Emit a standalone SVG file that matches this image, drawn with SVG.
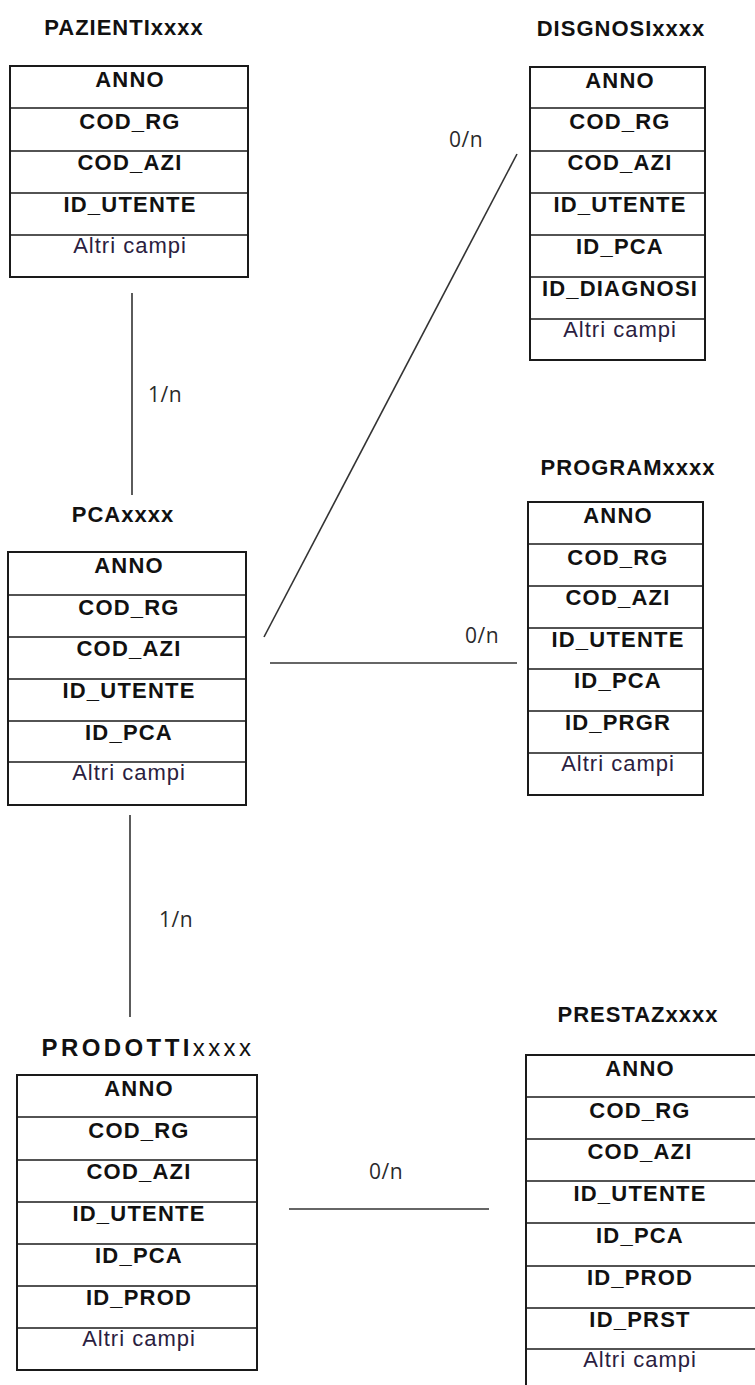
<svg xmlns="http://www.w3.org/2000/svg" width="755" height="1385" viewBox="0 0 755 1385">
<style>
.box{fill:#fff;stroke:#1a1a1a;stroke-width:2}
.sep{stroke:#1a1a1a;stroke-width:1.6}
.f{font-family:"Liberation Sans",Arial,sans-serif;font-weight:bold;font-size:22px;letter-spacing:1.2px;text-anchor:middle;fill:#111}
.o{font-family:"Liberation Sans",Arial,sans-serif;font-weight:normal;font-size:22px;letter-spacing:1px;text-anchor:middle;fill:#2a2040}
.t{font-family:"Liberation Sans",Arial,sans-serif;font-weight:bold;font-size:22px;letter-spacing:1px;text-anchor:middle;fill:#111}
.lbl{font-family:"Open Sans","Liberation Sans",sans-serif;font-size:21px;letter-spacing:0.5px;fill:#2a2a2a}
.conn{stroke:#333;stroke-width:1.6;fill:none}
</style>
<rect width="755" height="1385" fill="#fff"/>

<g id="connectors">
<line class="conn" x1="132" y1="293" x2="132" y2="495"/>
<line class="conn" x1="264" y1="637" x2="517" y2="154"/>
<line class="conn" x1="270" y1="663" x2="517" y2="663"/>
<line class="conn" x1="130" y1="815" x2="130" y2="1017"/>
<line class="conn" x1="289" y1="1209" x2="489" y2="1209"/>
<text class="lbl" x="148" y="402">1/n</text>
<text class="lbl" x="449" y="147">0/n</text>
<text class="lbl" x="465" y="643">0/n</text>
<text class="lbl" x="159" y="927">1/n</text>
<text class="lbl" x="369" y="1179">0/n</text>
</g>

<g id="pazienti">
<text class="t" x="124" y="35">PAZIENTIxxxx</text>
<rect class="box" x="10" y="66" width="238" height="211"/>
<line class="sep" x1="10" y1="108" x2="248" y2="108"/>
<line class="sep" x1="10" y1="151" x2="248" y2="151"/>
<line class="sep" x1="10" y1="193" x2="248" y2="193"/>
<line class="sep" x1="10" y1="235" x2="248" y2="235"/>
<text class="f" x="130" y="87">ANNO</text>
<text class="f" x="130" y="129">COD_RG</text>
<text class="f" x="130" y="170">COD_AZI</text>
<text class="f" x="130" y="212">ID_UTENTE</text>
<text class="o" x="130" y="253">Altri campi</text>
</g>

<g id="diagnosi">
<text class="t" x="621" y="36">DISGNOSIxxxx</text>
<rect class="box" x="530" y="67" width="175" height="293"/>
<line class="sep" x1="530" y1="108" x2="705" y2="108"/>
<line class="sep" x1="530" y1="151" x2="705" y2="151"/>
<line class="sep" x1="530" y1="193" x2="705" y2="193"/>
<line class="sep" x1="530" y1="235" x2="705" y2="235"/>
<line class="sep" x1="530" y1="277" x2="705" y2="277"/>
<line class="sep" x1="530" y1="319" x2="705" y2="319"/>
<text class="f" x="620" y="88">ANNO</text>
<text class="f" x="620" y="129">COD_RG</text>
<text class="f" x="620" y="170">COD_AZI</text>
<text class="f" x="620" y="212">ID_UTENTE</text>
<text class="f" x="620" y="254">ID_PCA</text>
<text class="f" x="620" y="296">ID_DIAGNOSI</text>
<text class="o" x="620" y="337">Altri campi</text>
</g>

<g id="pca">
<text class="t" x="123" y="522">PCAxxxx</text>
<rect class="box" x="8" y="552" width="238" height="253"/>
<line class="sep" x1="8" y1="595" x2="246" y2="595"/>
<line class="sep" x1="8" y1="637" x2="246" y2="637"/>
<line class="sep" x1="8" y1="679" x2="246" y2="679"/>
<line class="sep" x1="8" y1="721" x2="246" y2="721"/>
<line class="sep" x1="8" y1="762" x2="246" y2="762"/>
<text class="f" x="129" y="573">ANNO</text>
<text class="f" x="129" y="615">COD_RG</text>
<text class="f" x="129" y="656">COD_AZI</text>
<text class="f" x="129" y="698">ID_UTENTE</text>
<text class="f" x="129" y="740">ID_PCA</text>
<text class="o" x="129" y="780">Altri campi</text>
</g>

<g id="program">
<text class="t" x="628" y="475">PROGRAMxxxx</text>
<rect class="box" x="528" y="502" width="175" height="293"/>
<line class="sep" x1="528" y1="544" x2="703" y2="544"/>
<line class="sep" x1="528" y1="586" x2="703" y2="586"/>
<line class="sep" x1="528" y1="628" x2="703" y2="628"/>
<line class="sep" x1="528" y1="669" x2="703" y2="669"/>
<line class="sep" x1="528" y1="711" x2="703" y2="711"/>
<line class="sep" x1="528" y1="753" x2="703" y2="753"/>
<text class="f" x="618" y="523">ANNO</text>
<text class="f" x="618" y="565">COD_RG</text>
<text class="f" x="618" y="605">COD_AZI</text>
<text class="f" x="618" y="647">ID_UTENTE</text>
<text class="f" x="618" y="688">ID_PCA</text>
<text class="f" x="618" y="730">ID_PRGR</text>
<text class="o" x="618" y="771">Altri campi</text>
</g>

<g id="prodotti">
<text class="t" x="148" y="1056" style="font-size:24px;letter-spacing:3.4px">PRODOTTI<tspan style="font-weight:normal">xxxx</tspan></text>
<rect class="box" x="17" y="1075" width="240" height="295"/>
<line class="sep" x1="17" y1="1117" x2="257" y2="1117"/>
<line class="sep" x1="17" y1="1160" x2="257" y2="1160"/>
<line class="sep" x1="17" y1="1202" x2="257" y2="1202"/>
<line class="sep" x1="17" y1="1244" x2="257" y2="1244"/>
<line class="sep" x1="17" y1="1286" x2="257" y2="1286"/>
<line class="sep" x1="17" y1="1328" x2="257" y2="1328"/>
<text class="f" x="139" y="1096">ANNO</text>
<text class="f" x="139" y="1138">COD_RG</text>
<text class="f" x="139" y="1179">COD_AZI</text>
<text class="f" x="139" y="1221">ID_UTENTE</text>
<text class="f" x="139" y="1263">ID_PCA</text>
<text class="f" x="139" y="1305">ID_PROD</text>
<text class="o" x="139" y="1346">Altri campi</text>
</g>

<g id="prestaz">
<text class="t" x="638" y="1022">PRESTAZxxxx</text>
<rect class="box" x="526" y="1055" width="240" height="340"/>
<line class="sep" x1="526" y1="1097" x2="766" y2="1097"/>
<line class="sep" x1="526" y1="1139" x2="766" y2="1139"/>
<line class="sep" x1="526" y1="1181" x2="766" y2="1181"/>
<line class="sep" x1="526" y1="1223" x2="766" y2="1223"/>
<line class="sep" x1="526" y1="1266" x2="766" y2="1266"/>
<line class="sep" x1="526" y1="1308" x2="766" y2="1308"/>
<line class="sep" x1="526" y1="1349" x2="766" y2="1349"/>
<text class="f" x="640" y="1076">ANNO</text>
<text class="f" x="640" y="1118">COD_RG</text>
<text class="f" x="640" y="1159">COD_AZI</text>
<text class="f" x="640" y="1201">ID_UTENTE</text>
<text class="f" x="640" y="1243">ID_PCA</text>
<text class="f" x="640" y="1285">ID_PROD</text>
<text class="f" x="640" y="1327">ID_PRST</text>
<text class="o" x="640" y="1367">Altri campi</text>
</g>
</svg>
